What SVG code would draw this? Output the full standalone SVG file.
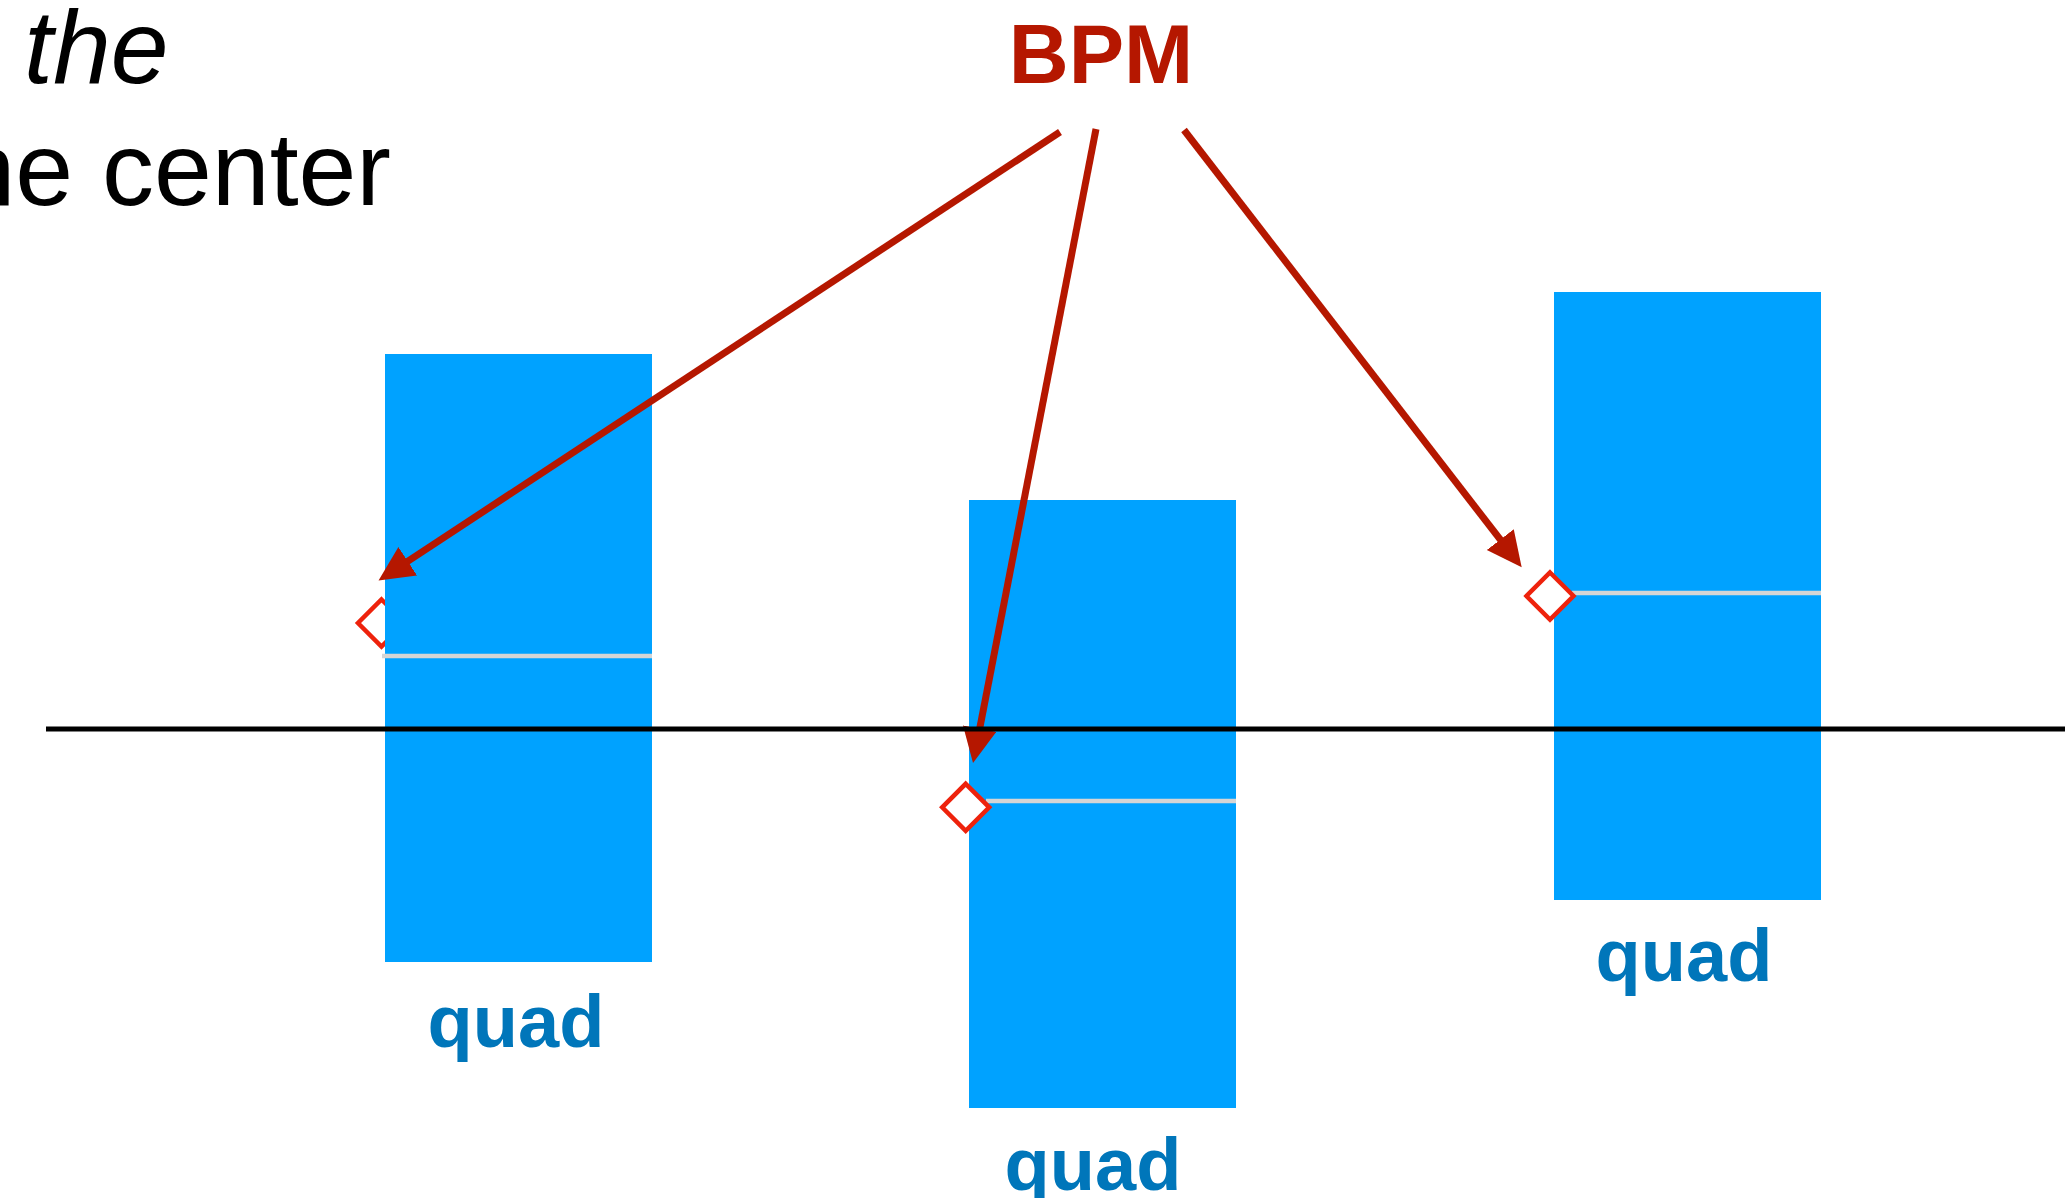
<svg xmlns="http://www.w3.org/2000/svg" width="2065" height="1198" viewBox="0 0 2065 1198">
  <style>
    .quad { fill: #00A2FF; }
    .mid { stroke: #D5D5D5; stroke-width: 4.5; fill: none; }
    .bpm { fill: #FFFFFF; stroke: #EE220C; stroke-width: 4.5; }
    .lbl { font-family: "Liberation Sans", Arial, sans-serif; font-weight: bold; font-size: 74px; fill: #0076BA; text-anchor: middle; }
    .arrow { stroke: #B51700; stroke-width: 7; fill: none; marker-end: url(#head); }
    .note { font-family: "Liberation Sans", Arial, sans-serif; font-size: 104px; fill: #000000; }
  </style>
  <defs>
    <marker id="head" markerUnits="userSpaceOnUse" markerWidth="36" markerHeight="36" refX="2" refY="17" orient="auto">
      <path d="M0,0 L35,17 L0,34 Z" fill="#B51700"/>
    </marker>
  </defs>
  <rect width="2065" height="1198" fill="#FFFFFF"/>

  <g id="note">
    <text class="note" x="24" y="83" font-style="italic">the</text>
    <text class="note" x="391" y="205" text-anchor="end">he center</text>
  </g>

  <g id="bpm-label">
    <text x="1101" y="83" font-family="'Liberation Sans', Arial, sans-serif" font-weight="bold" font-size="83" fill="#B51700" text-anchor="middle">BPM</text>
  </g>

  <g id="quad1">
    <path class="bpm" d="M381.5,599.5 L405,623 L381.5,646.5 L358,623 Z"/>
    <rect class="quad" x="385" y="354" width="267" height="608"/>
    <line class="mid" x1="382" y1="656" x2="652" y2="656"/>
    <text class="lbl" x="516" y="1047">quad</text>
  </g>

  <g id="quad2">
    <rect class="quad" x="969" y="500" width="267" height="608"/>
    <line class="mid" x1="986" y1="801" x2="1236" y2="801"/>
    <path class="bpm" d="M965.7,783.8 L989.2,807.3 L965.7,830.8 L942.2,807.3 Z"/>
    <text class="lbl" x="1093" y="1190">quad</text>
  </g>

  <g id="quad3">
    <rect class="quad" x="1554" y="292" width="267" height="608"/>
    <line class="mid" x1="1572" y1="593" x2="1821" y2="593"/>
    <path class="bpm" d="M1550,572.5 L1573.5,596 L1550,619.5 L1526.5,596 Z"/>
    <text class="lbl" x="1684" y="981">quad</text>
  </g>

  <g id="connectors">
    <line class="arrow" x1="1060" y1="132" x2="406.1" y2="562.4"/>
    <line class="arrow" x1="1096" y1="129" x2="979.3" y2="730.6"/>
    <line class="arrow" x1="1184" y1="130" x2="1501.5" y2="541.2"/>
  </g>

  <g id="axis">
    <line x1="46" y1="729" x2="2065" y2="729" stroke="#000000" stroke-width="5"/>
  </g>
</svg>
